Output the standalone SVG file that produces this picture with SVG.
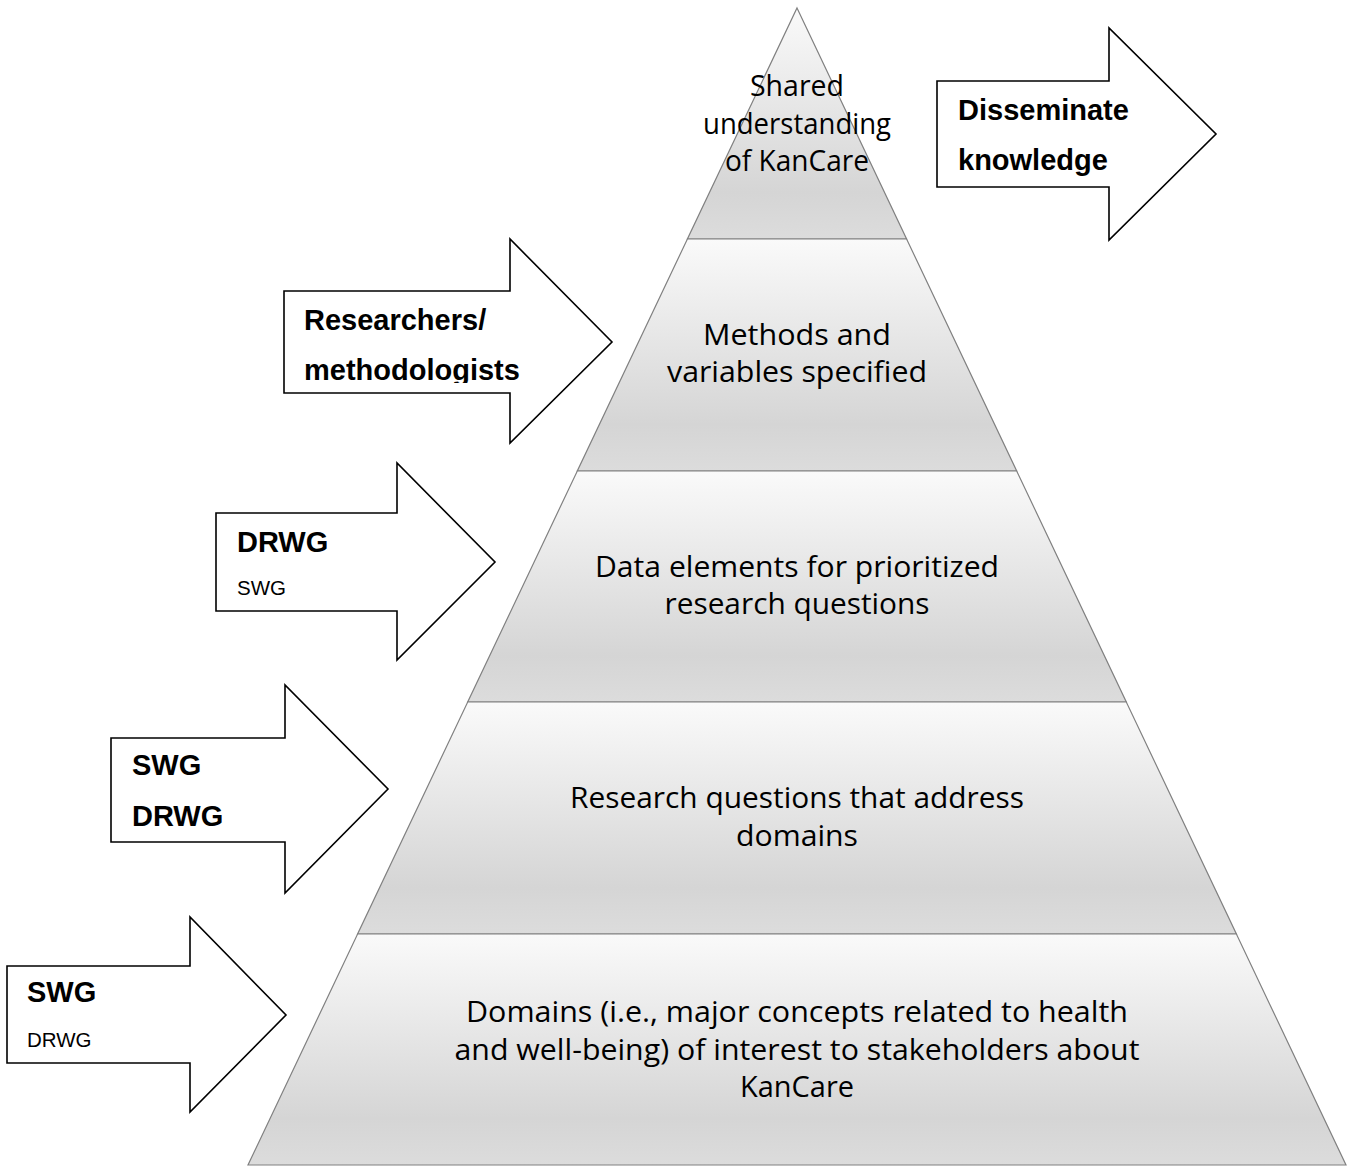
<svg xmlns="http://www.w3.org/2000/svg" width="1348" height="1166" viewBox="0 0 1348 1166">
<style>
.layer{stroke:#808080;stroke-width:1.2;}
.ptxt{font-family:"Open Sans","Noto Sans",sans-serif;font-size:30px;fill:#000;text-anchor:middle;}
.arrow{fill:#fff;stroke:#000;stroke-width:1.6;stroke-linejoin:miter;}
.atb{font-family:"Liberation Sans",Arial,sans-serif;font-size:29px;font-weight:bold;fill:#000;}
.atr{font-family:"Liberation Sans",Arial,sans-serif;font-size:20.5px;fill:#000;}
</style>
<defs>
<linearGradient id="g" x1="0" y1="0" x2="0" y2="1">
<stop offset="0" stop-color="#fafafa"/>
<stop offset="0.8" stop-color="#d5d5d5"/>
<stop offset="1" stop-color="#dcdcdc"/>
</linearGradient>
<clipPath id="clipR"><rect x="280" y="240" width="340" height="143"/></clipPath>
</defs>
<rect width="1348" height="1166" fill="#fff"/>
<g id="pyramid">
<g id="layer1"><polygon class="layer" fill="url(#g)" points="797,8 906.6,239 687.4,239"/>
<text class="ptxt" x="797" y="96" textLength="94" lengthAdjust="spacingAndGlyphs">Shared</text>
<text class="ptxt" x="797" y="134" textLength="188" lengthAdjust="spacingAndGlyphs">understanding</text>
<text class="ptxt" x="797" y="171" textLength="144" lengthAdjust="spacingAndGlyphs">of KanCare</text></g>
<g id="layer2"><polygon class="layer" fill="url(#g)" points="687.4,239 906.6,239 1016.7,471 577.3,471"/>
<text class="ptxt" x="797" y="345" textLength="188" lengthAdjust="spacingAndGlyphs">Methods and</text>
<text class="ptxt" x="797" y="382" textLength="260" lengthAdjust="spacingAndGlyphs">variables specified</text></g>
<g id="layer3"><polygon class="layer" fill="url(#g)" points="577.3,471 1016.7,471 1126.3,702 467.7,702"/>
<text class="ptxt" x="797" y="577" textLength="404" lengthAdjust="spacingAndGlyphs">Data elements for prioritized</text>
<text class="ptxt" x="797" y="614" textLength="265" lengthAdjust="spacingAndGlyphs">research questions</text></g>
<g id="layer4"><polygon class="layer" fill="url(#g)" points="467.7,702 1126.3,702 1236.4,934 357.6,934"/>
<text class="ptxt" x="797" y="808" textLength="454" lengthAdjust="spacingAndGlyphs">Research questions that address</text>
<text class="ptxt" x="797" y="846" textLength="122" lengthAdjust="spacingAndGlyphs">domains</text></g>
<g id="layer5"><polygon class="layer" fill="url(#g)" points="357.6,934 1236.4,934 1346,1165 248,1165"/>
<text class="ptxt" x="797" y="1022" textLength="662" lengthAdjust="spacingAndGlyphs">Domains (i.e., major concepts related to health</text>
<text class="ptxt" x="797" y="1060" textLength="685" lengthAdjust="spacingAndGlyphs">and well-being) of interest to stakeholders about</text>
<text class="ptxt" x="797" y="1097" textLength="114" lengthAdjust="spacingAndGlyphs">KanCare</text></g>
</g>
<g id="connectors">
<g id="arrow-disseminate"><path class="arrow" d="M937,81 H1109 V28 L1216,134 L1109,240 V187 H937 Z"/>
<text class="atb" x="958" y="120">Disseminate</text>
<text class="atb" x="958" y="170">knowledge</text></g>
<g id="arrow-researchers"><path class="arrow" d="M284,291 H510 V239 L612,342 L510,443 V393 H284 Z"/>
<g clip-path="url(#clipR)"><text class="atb" x="304" y="330">Researchers/</text>
<text class="atb" x="304" y="380">methodologists</text></g></g>
<g id="arrow-drwg"><path class="arrow" d="M216,513 H397 V463 L495,562 L397,660 V611 H216 Z"/>
<text class="atb" x="237" y="552">DRWG</text>
<text class="atr" x="237" y="595">SWG</text></g>
<g id="arrow-swg-drwg"><path class="arrow" d="M111,738 H285 V685 L388,789 L285,893 V842 H111 Z"/>
<text class="atb" x="132" y="775">SWG</text>
<text class="atb" x="132" y="826">DRWG</text></g>
<g id="arrow-swg"><path class="arrow" d="M7,966 H190 V917 L286,1015 L190,1112 V1063 H7 Z"/>
<text class="atb" x="27" y="1002">SWG</text>
<text class="atr" x="27" y="1047">DRWG</text></g>
</g>
</svg>
